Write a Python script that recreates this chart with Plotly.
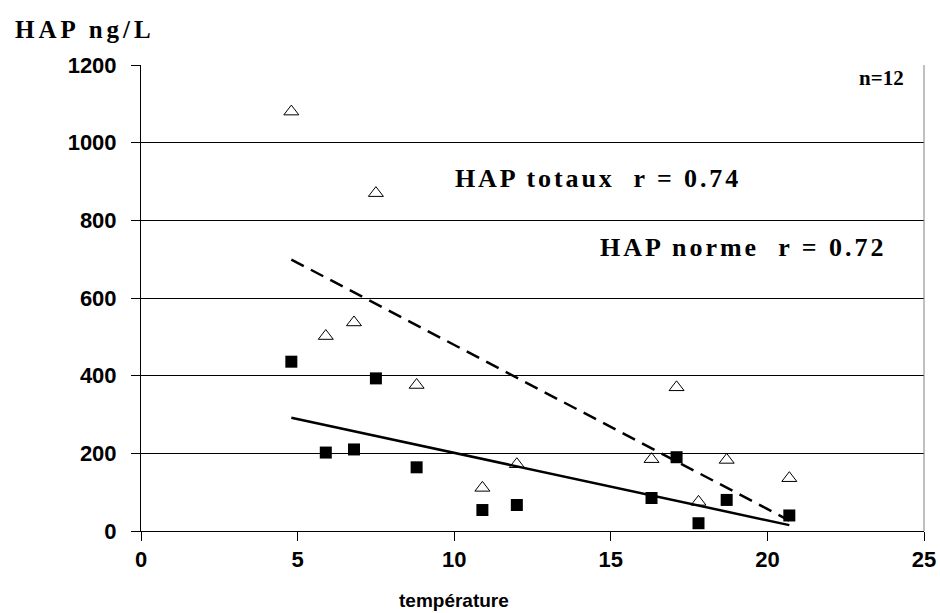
import numpy as np
import plotly.graph_objects as go

temperature = [4.8, 5.9, 6.8, 7.5, 8.8, 10.9, 12.0, 16.3, 17.1, 17.8, 18.7, 20.7]
hap_totaux = [1080, 502, 537, 870, 376, 111, 172, 185, 370, 75, 183, 136]
hap_norme = [436, 202, 210, 393, 164, 54, 67, 85, 190, 20, 80, 40]
x_ticks = [0, 5, 10, 15, 20, 25]
y_ticks = [0, 200, 400, 600, 800, 1000, 1200]

x = np.array(temperature)
xfit = np.array([x.min(), x.max()])
p_tot = np.polyfit(x, np.array(hap_totaux), 1)
p_norm = np.polyfit(x, np.array(hap_norme), 1)

fig = go.Figure()
fig.add_trace(go.Scatter(x=xfit, y=np.polyval(p_tot, xfit), mode="lines",
                         line=dict(color="black", width=2.5, dash="14px,8px"),
                         showlegend=False, hoverinfo="skip"))
fig.add_trace(go.Scatter(x=xfit, y=np.polyval(p_norm, xfit), mode="lines",
                         line=dict(color="black", width=2.5),
                         showlegend=False, hoverinfo="skip"))
fig.add_trace(go.Scatter(x=temperature, y=hap_totaux, mode="markers", name="HAP totaux",
                         marker=dict(symbol="triangle-up-open", size=13, color="black",
                                     line=dict(width=1, color="black")),
                         showlegend=False))
fig.add_trace(go.Scatter(x=temperature, y=hap_norme, mode="markers", name="HAP norme",
                         marker=dict(symbol="square", size=12, color="black",
                                     line=dict(width=0)),
                         showlegend=False))

tick_font = dict(family="Liberation Sans, Arial", size=22, color="black", weight="bold")
serif = dict(family="Liberation Serif, Times New Roman", size=26, color="black", weight="bold")

W, H = 940, 613
L, R, T, B = 141, 16, 65, 82
PW = W - L - R

fig.update_layout(
    width=W, height=H,
    margin=dict(l=L, r=R, t=T, b=B),
    paper_bgcolor="white", plot_bgcolor="white",
    xaxis=dict(range=[0, 25], tickvals=x_ticks, ticktext=[str(v) for v in x_ticks],
               showgrid=False, zeroline=False, showline=True, linecolor="black", linewidth=1,
               ticks="outside", ticklen=9, tickcolor="black", tickfont=tick_font,
               automargin=False),
    yaxis=dict(range=[0, 1200], tickvals=y_ticks, ticktext=[str(v) for v in y_ticks],
               showgrid=True, gridcolor="black", gridwidth=1, zeroline=False,
               showline=True, linecolor="black", linewidth=1, ticklabelstandoff=10,
               ticks="outside", ticklen=9, tickcolor="black", tickfont=tick_font,
               automargin=False),
    shapes=[dict(type="line", xref="paper", yref="paper", x0=1, x1=1, y0=0, y1=1,
                 line=dict(color="#808080", width=1))],
    annotations=[
        dict(text='<span style="letter-spacing:4px">HAP ng/L</span>', xref="paper", yref="paper",
             x=-128 / PW, y=1, xanchor="left", yanchor="middle", yshift=36,
             showarrow=False, font=dict(serif, size=25)),
        dict(text="n=12", xref="paper", yref="y", x=1, y=1167, xanchor="right", yanchor="middle",
             xshift=-18, showarrow=False, font=dict(serif, size=21)),
        dict(text='<span style="letter-spacing:2.9px">HAP totaux  r = 0.74</span>', xref="x", yref="y",
             x=9.97, y=909, xanchor="left", yanchor="middle", showarrow=False, font=serif),
        dict(text='<span style="letter-spacing:3px">HAP norme  r = 0.72</span>', xref="x", yref="y",
             x=14.6, y=731, xanchor="left", yanchor="middle", showarrow=False, font=serif),
        dict(text="température", xref="x", yref="paper", x=10, y=0, yshift=-69,
             xanchor="center", yanchor="middle", showarrow=False,
             font=dict(family="Liberation Sans, Arial", size=19, color="black", weight="bold")),
    ],
)

fig.write_html("out.html", config={"displayModeBar": False},
               post_script="document.body.style.margin='0';document.body.style.overflow='hidden';")
